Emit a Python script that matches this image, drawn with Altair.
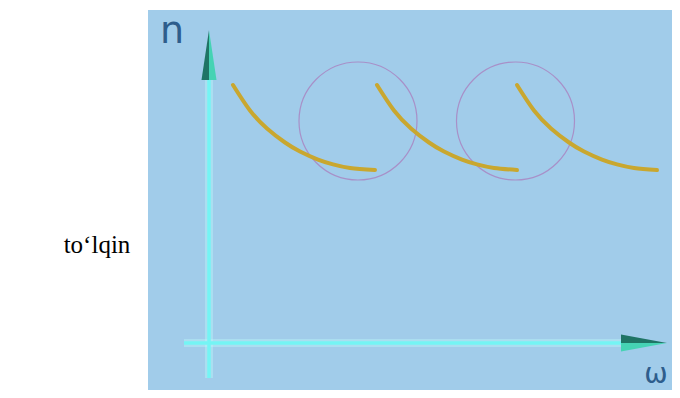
import altair as alt
import pandas as pd

# ---- data (diagram units: origin at axis crossing) ----
bg_x = [-6.1]; bg_x2 = [46.3]; bg_y = [33.3]; bg_y2 = [-4.7]

axis_x = [0.0, -2.5]; axis_x2 = [0.0, 41.2]
axis_y = [-3.5, 0.0]; axis_y2 = [26.3, 0.0]

curve_x1 = [2.4, 4.1, 5.8, 7.6, 9.1, 10.9, 12.4, 14.1, 16.6]
curve_x2 = [16.8, 18.5, 20.2, 22.0, 23.5, 25.3, 26.8, 28.5, 30.8]
curve_x3 = [30.8, 32.5, 34.2, 36.0, 37.5, 39.3, 40.8, 42.5, 44.8]
curve_y = [25.8, 23.25, 21.46, 20.05, 19.15, 18.34, 17.86, 17.5, 17.3]

circle_x = [14.9, 30.65]
circle_y = [22.2, 22.2]

varrow_x = [0.0]; varrow_y = [28.8]
harrow_x = [43.5]; harrow_y = [0.0]

labels = ["n", "ω", "to\u2018lqin"]
label_x = [-3.7, 44.7, -11.2]
label_y = [30.0, -4.6, 9.0]

XD = [-20.1, 46.3]
YD = [-4.7, 33.5]


def X(f):
    return alt.X(f"{f}:Q", scale=alt.Scale(domain=XD, nice=False, zero=False), axis=None)


def Y(f):
    return alt.Y(f"{f}:Q", scale=alt.Scale(domain=YD, nice=False, zero=False), axis=None)


def X2(f):
    return alt.X2(f"{f}:Q")


def Y2(f):
    return alt.Y2(f"{f}:Q")


bg = alt.Chart(pd.DataFrame({"x": bg_x, "x2": bg_x2, "y": bg_y, "y2": bg_y2})).mark_rect(
    color="#A1CCEA"
).encode(x=X("x"), x2=X2("x2"), y=Y("y"), y2=Y2("y2"))

circ = alt.Chart(pd.DataFrame({"x": circle_x, "y": circle_y})).mark_point(
    shape="circle", size=13924, filled=False, stroke="#A890C8", strokeWidth=1.2, opacity=1
).encode(x=X("x"), y=Y("y"))

rows = []
for k, xs in enumerate([curve_x1, curve_x2, curve_x3]):
    for i, (xv, yv) in enumerate(zip(xs, curve_y)):
        rows.append({"c": k, "o": i, "x": xv, "y": yv})
cdf = pd.DataFrame(rows)
curves = alt.Chart(cdf).mark_line(
    color="#C9A72F", strokeWidth=4, interpolate="natural", strokeCap="round"
).encode(x=X("x"), y=Y("y"), detail="c:N", order="o:Q")

adf = pd.DataFrame({"x": axis_x, "x2": axis_x2, "y": axis_y, "y2": axis_y2})
glow = alt.Chart(adf).mark_rule(color="#B8F4F8", strokeWidth=8, opacity=0.45).encode(
    x=X("x"), x2=X2("x2"), y=Y("y"), y2=Y2("y2"))
axes = alt.Chart(adf).mark_rule(color="#74F4F4", strokeWidth=3.5).encode(
    x=X("x"), x2=X2("x2"), y=Y("y"), y2=Y2("y2"))

vdf = pd.DataFrame({"x": varrow_x, "y": varrow_y})
hdf = pd.DataFrame({"x": harrow_x, "y": harrow_y})
v_left = alt.Chart(vdf).mark_point(shape="M0,-1L-0.3,1L0,1Z", size=2500, filled=True,
                                   fill="#1F7465", strokeWidth=0, opacity=1).encode(x=X("x"), y=Y("y"))
v_right = alt.Chart(vdf).mark_point(shape="M0,-1L0.3,1L0,1Z", size=2500, filled=True,
                                    fill="#45D3B4", strokeWidth=0, opacity=1).encode(x=X("x"), y=Y("y"))
h_top = alt.Chart(hdf).mark_point(shape="M1,0L-1,-0.37L-1,0Z", size=2116, filled=True,
                                  fill="#1F7465", strokeWidth=0, opacity=1).encode(x=X("x"), y=Y("y"))
h_bot = alt.Chart(hdf).mark_point(shape="M1,0L-1,0L-1,0.37Z", size=2116, filled=True,
                                  fill="#45D3B4", strokeWidth=0, opacity=1).encode(x=X("x"), y=Y("y"))

ldf = pd.DataFrame({"t": labels, "x": label_x, "y": label_y})
t_n = alt.Chart(ldf.iloc[[0]]).mark_text(font="DejaVu Sans", fontSize=38, color="#2E5D8C",
                                         align="center", baseline="alphabetic").encode(
    x=X("x"), y=Y("y"), text="t:N")
t_w = alt.Chart(ldf.iloc[[1]]).mark_text(font="DejaVu Sans", fontSize=28, color="#2E5D8C",
                                         align="center", baseline="bottom").encode(
    x=X("x"), y=Y("y"), text="t:N")
t_l = alt.Chart(ldf.iloc[[2]]).mark_text(font="Liberation Serif", fontSize=25, color="#000000",
                                         align="center", baseline="alphabetic").encode(
    x=X("x"), y=Y("y"), text="t:N")

chart = alt.layer(bg, circ, curves, glow, axes, v_left, v_right, h_top, h_bot, t_n, t_w, t_l).properties(
    width=664, height=382, padding=0, autosize="none", background="#FFFFFF"
).configure_view(stroke=None)

chart.save("out.html", embed_options={"renderer": "svg", "actions": False})
